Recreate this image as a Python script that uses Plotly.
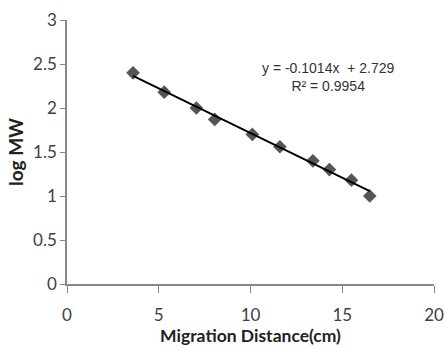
import plotly.graph_objects as go

distance = [3.6, 5.3, 7.05, 8.05, 10.1, 11.6, 13.4, 14.3, 15.5, 16.5]
log_mw = [2.40, 2.18, 2.00, 1.87, 1.70, 1.56, 1.40, 1.30, 1.18, 1.00]
slope = -0.1014
intercept = 2.729
r2 = 0.9954
x_ticks = [0, 5, 10, 15, 20]
y_ticks = [0, 0.5, 1, 1.5, 2, 2.5, 3]

x_fit = [min(distance), max(distance)]
y_fit = [slope * v + intercept for v in x_fit]

fig = go.Figure()
fig.add_trace(go.Scatter(x=distance, y=log_mw, mode="markers",
                         marker=dict(symbol="diamond", size=10.5, color="#555555",
                                     line=dict(width=0)),
                         showlegend=False))
fig.add_trace(go.Scatter(x=x_fit, y=y_fit, mode="lines",
                         line=dict(color="black", width=2), showlegend=False))

fig.add_annotation(x=0.712, y=0.784, xref="paper", yref="paper",
                   xanchor="center", yanchor="middle",
                   text=f"y = {slope}x  + {intercept}<br>R² = {r2}",
                   showarrow=False, align="center",
                   font=dict(family="Liberation Sans Narrow, Arial Narrow, Liberation Sans", size=14, color="#333333"))

axis_font = dict(family="Lato, Open Sans, sans-serif", size=17, color="#404040")
title_font = dict(family="Lato, Open Sans, sans-serif", size=17.5, color="#222222")
fig.update_layout(
    width=446, height=348,
    margin=dict(l=67, r=12, t=20, b=64, autoexpand=False),
    paper_bgcolor="white", plot_bgcolor="white",
    xaxis=dict(range=[0, 20], tickvals=x_ticks, showgrid=False, zeroline=False,
               showline=True, linecolor="#888888", linewidth=1.5,
               ticks="outside", ticklen=7, tickcolor="#888888",
               ticklabelstandoff=8, automargin=False,
               tickfont=axis_font,
               title=dict(text="<b>Migration Distance(cm)</b>", standoff=4,
                          font=title_font)),
    yaxis=dict(range=[0, 3], tickvals=y_ticks, showgrid=False, zeroline=False,
               showline=True, linecolor="#888888", linewidth=1.5,
               ticks="outside", ticklen=5, tickcolor="#888888",
               automargin=False,
               tickfont=axis_font,
               title=dict(text="<b>log MW</b>", standoff=4,
                          font=dict(family="Lato, Open Sans, sans-serif", size=19, color="#222222"))),
)

fig.write_html("out.html", config={"displayModeBar": False},
               post_script="document.body.style.margin='0';")
